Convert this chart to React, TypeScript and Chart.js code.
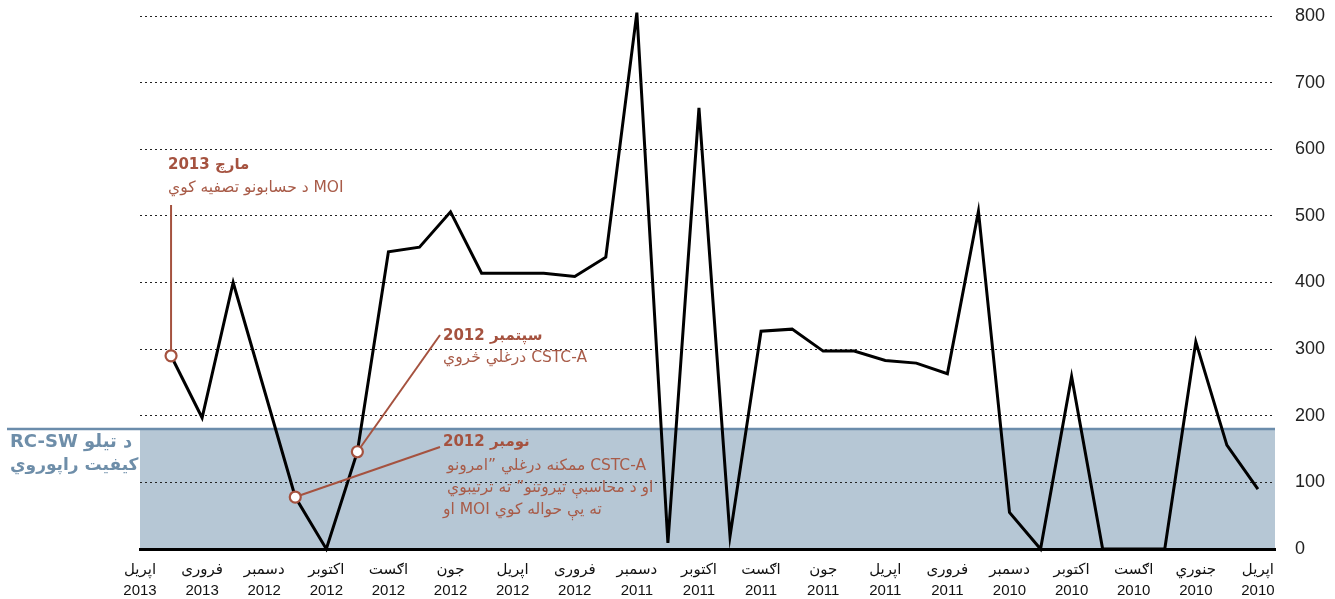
import React, { useEffect, useRef } from "react";
import { Chart, registerables } from "chart.js";

Chart.register(...registerables);

// Tick labels, left to right (every second month)
const monthLabels = [
  "اپریل", "فروری", "دسمبر", "اکتوبر", "اګست", "جون", "اپریل", "فروری", "دسمبر", "اکتوبر",
  "اګست", "جون", "اپریل", "فروری", "دسمبر", "اکتوبر", "اګست", "جنوري", "اپریل",
];
const yearLabels = [
  "2013", "2013", "2012", "2012", "2012", "2012", "2012", "2012", "2011", "2011",
  "2011", "2011", "2011", "2011", "2010", "2010", "2010", "2010", "2010",
];

// Monthly values, April 2013 (left) to April 2010 (right)
const values: (number | null)[] = [
  null, 290, 197, 400, 239, 78, 0, 146, 446, 453,
  506, 414, 414, 414, 409, 438, 805, 9, 662, 19,
  327, 330, 297, 297, 283, 279, 263, 507, 55, 0,
  259, 0, 0, 0, 311, 156, 90,
];

const bandTop = 180;
const bandLabel = ["RC-SW د تیلو", "کیفیت راپوروي"];

// Annotations
const noteIndex = [1, 7, 5];
const noteTitles = ["مارچ 2013", "سپتمبر 2012", "نومبر 2012"];
const noteLines = [
  ["MOI د حسابونو تصفیه کوي"],
  ["CSTC-A درغلي څروي"],
  ["CSTC-A ممکنه درغلي ”امرونو", "او د محاسبې تیروتنو” ته ترتیبوي", "او MOI ته یې حواله کوي"],
];

const BROWN = "#a5523f";
const BROWN_TEXT = "#a85b48";
const AR_FONT = "'DejaVu Sans', sans-serif";

const bandPlugin = {
  id: "band",
  beforeDraw(chart: any) {
    const { ctx, chartArea, scales } = chart;
    const y = scales.y;
    const top = y.getPixelForValue(bandTop);
    const bottom = y.getPixelForValue(0);
    ctx.save();
    ctx.fillStyle = "#b6c7d5";
    ctx.fillRect(chartArea.left, top, chartArea.right - chartArea.left, bottom - top);
    ctx.strokeStyle = "#6b8cab";
    ctx.lineWidth = 2.5;
    ctx.beginPath();
    ctx.moveTo(7, top);
    ctx.lineTo(chartArea.right, top);
    ctx.stroke();
    ctx.fillStyle = "#6e8ea9";
    ctx.font = "bold 18px " + AR_FONT;
    ctx.textBaseline = "middle";
    ctx.textAlign = "left";
    (ctx as any).direction = "ltr";
    ctx.fillText(bandLabel[0], 10, top + 13);
    ctx.font = "bold 17px " + AR_FONT;
    ctx.fillText(bandLabel[1], 10, top + 37);
    ctx.restore();
  },
};

const notesPlugin = {
  id: "notes",
  afterDatasetsDraw(chart: any) {
    const { ctx, scales } = chart;
    const x = scales.x;
    const y = scales.y;
    const pts = noteIndex.map((i) => ({
      x: x.getPixelForValue(i),
      y: y.getPixelForValue(values[i] as number),
    }));
    const ends = [
      { x: pts[0].x, y: 205 },
      { x: 440, y: 335 },
      { x: 440, y: 447 },
    ];
    const textPos = [
      { x: 168, ty: 165, by: [188] },
      { x: 443, ty: 336, by: [358] },
      { x: 443, ty: 442, by: [466, 488, 510] },
    ];
    const dirs = [["rtl"], ["rtl"], ["rtl", "rtl", "ltr"]];
    ctx.save();
    ctx.strokeStyle = BROWN;
    ctx.lineWidth = 2;
    pts.forEach((p, k) => {
      ctx.beginPath();
      ctx.moveTo(p.x, p.y);
      ctx.lineTo(ends[k].x, ends[k].y);
      ctx.stroke();
    });
    ctx.lineWidth = 2.2;
    pts.forEach((p) => {
      ctx.beginPath();
      ctx.arc(p.x, p.y, 5.5, 0, Math.PI * 2);
      ctx.fillStyle = "#ffffff";
      ctx.fill();
      ctx.stroke();
    });
    ctx.textBaseline = "middle";
    ctx.textAlign = "left";
    textPos.forEach((t, k) => {
      (ctx as any).direction = "rtl";
      ctx.fillStyle = BROWN;
      ctx.font = "bold 15px " + AR_FONT;
      ctx.fillText(noteTitles[k], t.x, t.ty);
      ctx.fillStyle = BROWN_TEXT;
      ctx.font = "15.5px " + AR_FONT;
      noteLines[k].forEach((line, j) => {
        (ctx as any).direction = dirs[k][j];
        ctx.fillText(line, t.x + (k === 2 && j < 2 ? 4 : 0), t.by[j]);
      });
    });
    ctx.restore();
  },
};

export default function App() {
  const ref = useRef<HTMLCanvasElement | null>(null);

  useEffect(() => {
    if (!ref.current) return;
    const data = values.map((v, i) => ({ x: i, y: v }));
    const chart = new Chart(ref.current, {
      type: "line",
      data: {
        datasets: [
          {
            data: data as any,
            borderColor: "#000000",
            borderWidth: 3,
            pointRadius: 0,
            tension: 0,
            clip: false as any,
            spanGaps: false,
          },
        ],
      },
      options: {
        animation: false,
        responsive: false,
        devicePixelRatio: 1,
        layout: { padding: { left: 140, right: 0, top: 16, bottom: 0 } },
        plugins: {
          legend: { display: false },
          tooltip: { enabled: false },
        },
        scales: {
          x: {
            type: "linear",
            min: 0,
            max: 36.55,
            afterBuildTicks: (scale: any) => {
              scale.ticks = monthLabels.map((_, k) => ({ value: k * 2 }));
            },
            afterFit: (scale: any) => {
              scale.height = 50;
            },
            grid: { display: false, drawTicks: false },
            border: { display: true, color: "#000000", width: 3 },
            ticks: {
              autoSkip: false,
              maxRotation: 0,
              minRotation: 0,
              padding: 10,
              color: "#111111",
              font: { family: "'Liberation Sans', 'DejaVu Sans', sans-serif", size: 15, lineHeight: 1.4 },
              callback: (v: any) => {
                const k = Math.round(Number(v) / 2);
                return [monthLabels[k], yearLabels[k]];
              },
            },
          },
          y: {
            position: "right",
            min: 0,
            max: 800,
            afterFit: (scale: any) => {
              scale.width = 60;
            },
            grid: {
              color: "#222222",
              lineWidth: 1,
              drawTicks: true,
              tickLength: 20,
              tickColor: "rgba(0,0,0,0)",
            },
            border: { display: false, dash: [2, 3] },
            ticks: {
              stepSize: 100,
              padding: 0,
              color: "#222222",
              font: { family: "'Liberation Sans', Arial, sans-serif", size: 18 },
            },
          },
        },
      },
      plugins: [bandPlugin, notesPlugin],
    });
    return () => chart.destroy();
  }, []);

  return (
    <div style={{ position: "fixed", left: 0, top: 0, width: 1335, height: 599, background: "#ffffff" }}>
      <canvas ref={ref} width={1335} height={599} style={{ display: "block" }} />
    </div>
  );
}
